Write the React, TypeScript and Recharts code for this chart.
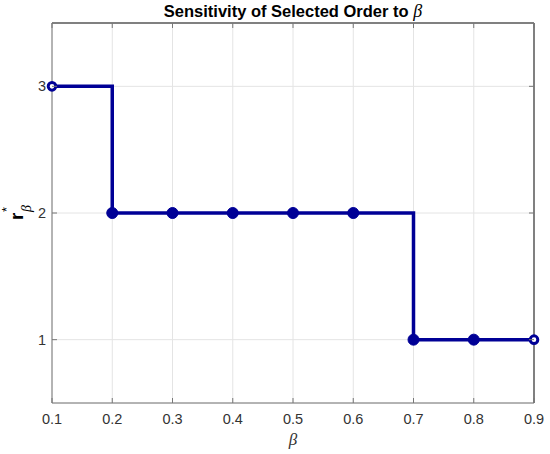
import React from 'react';
import { LineChart, Line, XAxis, YAxis, CartesianGrid, ReferenceLine } from 'recharts';

const betas = [0.1, 0.2, 0.3, 0.4, 0.5, 0.6, 0.7, 0.8, 0.9];
const orders = [3, 2, 2, 2, 2, 2, 1, 1, 1];
const yTicks = [1, 2, 3];
const yDomain = [0.5, 3.5];

const NAVY = '#000096';
const AXIS = '#777777';
const LABEL = '#333333';
const FONT = '"Liberation Sans", Arial, sans-serif';
const SERIF = '"Liberation Serif", serif';

const data = betas.map((b, i) => ({ beta: b, order: orders[i] }));

// MATLAB-style inward ticks with the label outside
const BottomTick = ({ x, y, payload }: any) => (
  <g>
    <line x1={x} x2={x} y1={y} y2={y - 5} stroke={AXIS} strokeWidth={1} />
    <text x={x} y={y + 21} textAnchor="middle" fontSize={14.5} fill={LABEL} fontFamily={FONT}>
      {payload.value.toFixed(1)}
    </text>
  </g>
);

const TopTick = ({ x, y }: any) => (
  <line x1={x} x2={x} y1={y} y2={y + 5} stroke={AXIS} strokeWidth={1} />
);

const LeftTick = ({ x, y, payload }: any) => (
  <g>
    <line x1={x} x2={x + 5} y1={y} y2={y} stroke={AXIS} strokeWidth={1} />
    <text x={x - 6} y={y + 5} textAnchor="end" fontSize={14.5} fill={LABEL} fontFamily={FONT}>
      {payload.value}
    </text>
  </g>
);

const RightTick = ({ x, y }: any) => (
  <line x1={x} x2={x - 5} y1={y} y2={y} stroke={AXIS} strokeWidth={1} />
);

const StepDot = ({ cx, cy, index }: any) => {
  const open = index === 0 || index === data.length - 1;
  if (open) {
    return <circle key={index} cx={cx} cy={cy} r={3.8} fill="#fff" stroke={NAVY} strokeWidth={3} />;
  }
  return <circle key={index} cx={cx} cy={cy} r={5.5} fill={NAVY} stroke={NAVY} strokeWidth={1} />;
};

export default function App() {
  return (
    <div style={{ position: 'fixed', left: 0, top: 0, width: 550, height: 454, background: '#fff' }}>
      <LineChart width={550} height={454} data={data} margin={{ top: 22, right: 15, left: 0, bottom: 0 }}>
        <CartesianGrid stroke="#e4e4e4" strokeWidth={1} />
        <XAxis
          dataKey="beta"
          type="number"
          domain={[betas[0], betas[betas.length - 1]]}
          ticks={betas}
          height={51}
          stroke={AXIS}
          tickLine={false}
          tickSize={0}
          tickMargin={0}
          tick={<BottomTick />}
          label={{ value: 'β', position: 'insideBottom', offset: 9, fontSize: 17, fontStyle: 'italic', fill: LABEL, fontFamily: SERIF }}
        />
        <XAxis
          xAxisId="top"
          dataKey="beta"
          type="number"
          orientation="top"
          domain={[betas[0], betas[betas.length - 1]]}
          ticks={betas}
          height={1}
          stroke={AXIS}
          tickLine={false}
          tickSize={0}
          tickMargin={0}
          tick={<TopTick />}
        />
        <YAxis
          type="number"
          domain={yDomain}
          ticks={yTicks}
          width={52}
          stroke={AXIS}
          tickLine={false}
          tickSize={0}
          tickMargin={0}
          tick={<LeftTick />}
        />
        <YAxis
          yAxisId="right"
          orientation="right"
          type="number"
          domain={yDomain}
          ticks={yTicks}
          width={1}
          stroke={AXIS}
          tickLine={false}
          tickSize={0}
          tickMargin={0}
          tick={<RightTick />}
        />
        {/* top and right edges of the box */}
        <ReferenceLine y={yDomain[1]} stroke="#8a8a8a" strokeWidth={2} ifOverflow="visible" />
        <ReferenceLine x={betas[betas.length - 1]} stroke="#8a8a8a" strokeWidth={2} ifOverflow="visible" />
        <Line
          xAxisId="top"
          yAxisId="right"
          dataKey="order"
          stroke="none"
          dot={false}
          activeDot={false}
          legendType="none"
          isAnimationActive={false}
        />
        <Line
          type="stepAfter"
          dataKey="order"
          stroke={NAVY}
          strokeWidth={3.5}
          dot={<StepDot />}
          activeDot={false}
          isAnimationActive={false}
        />
      </LineChart>
      <svg width={550} height={454} style={{ position: 'absolute', left: 0, top: 0, pointerEvents: 'none' }}>
        <text x={293} y={17} textAnchor="middle" fontFamily={FONT} fontSize={16.5} fontWeight="bold" fill="#000">
          Sensitivity of Selected Order to{' '}
          <tspan fontFamily={SERIF} fontStyle="italic" fontWeight="normal" fontSize={18}>β</tspan>
        </text>
        <g transform="translate(23,220) rotate(-90)">
          <text x={0} y={0} fontFamily={FONT} fontSize={19} fontWeight="bold" fill="#000">r</text>
          <text x={8} y={-12} fontFamily={FONT} fontSize={13} fill="#000">*</text>
          <text x={8} y={8} fontFamily={SERIF} fontStyle="italic" fontSize={14} fill="#000">β</text>
        </g>
      </svg>
    </div>
  );
}
